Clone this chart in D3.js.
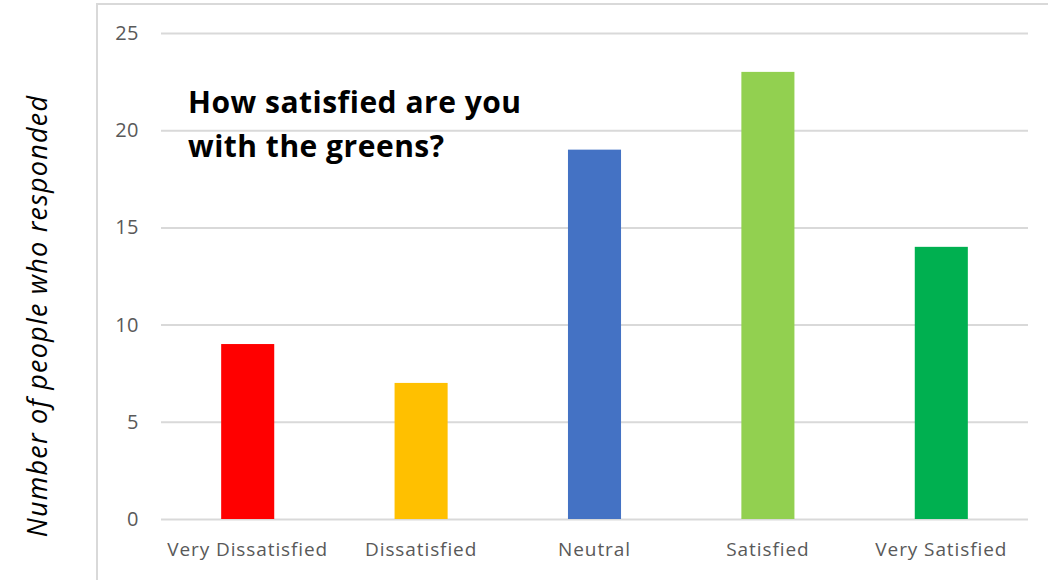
<!DOCTYPE html>
<html>
<head>
<meta charset="utf-8">
<script src="https://cdn.jsdelivr.net/npm/d3@7"></script>
<style>
  html, body { margin: 0; padding: 0; background: #fff; }
  svg { display: block; }
  text { font-family: "Open Sans", Lato, sans-serif; }
</style>
</head>
<body>
<svg id="chart" width="1048" height="580"></svg>
<script>
// Survey responses: satisfaction with the greens
const categories = ["Very Dissatisfied", "Dissatisfied", "Neutral", "Satisfied", "Very Satisfied"];
const responses = [9, 7, 19, 23, 14];
const barColors = ["#FF0000", "#FFC000", "#4472C4", "#92D050", "#00B050"];
const yTicks = [0, 5, 10, 15, 20, 25];
const titleLines = ["How satisfied are you", "with the greens?"];
const yAxisTitle = "Number of people who responded";

const svg = d3.select("#chart");
const W = 1048, H = 580;
const plot = { left: 161, right: 1028, top: 33, bottom: 519 };

// chart area frame (open on the right and bottom)
svg.append("path")
  .attr("d", `M97,${H} L97,4 L${W},4`)
  .attr("fill", "none")
  .attr("stroke", "#d9d9d9")
  .attr("stroke-width", 2);

const x = d3.scaleBand()
  .domain(categories)
  .range([plot.left, plot.right])
  .paddingInner(0.694)
  .paddingOuter(0.347);

const y = d3.scaleLinear()
  .domain([0, 25])
  .range([plot.bottom, plot.top]);

// horizontal gridlines + value labels
const yAxis = d3.axisLeft(y)
  .tickValues(yTicks)
  .tickSize(-(plot.right - plot.left))
  .tickPadding(22);
const gy = svg.append("g")
  .attr("transform", `translate(${plot.left},0)`)
  .call(yAxis);
gy.select(".domain").remove();
gy.selectAll(".tick line").attr("stroke", "#d9d9d9").attr("stroke-width", 2);
gy.selectAll(".tick text")
  .attr("fill", "#595959")
  .style("font-size", "20px")
  .style("letter-spacing", "0.5px");

// bars
svg.append("g").selectAll("rect")
  .data(responses)
  .join("rect")
  .attr("x", (d, i) => x(categories[i]))
  .attr("width", x.bandwidth())
  .attr("y", d => y(d))
  .attr("height", d => y(0) - y(d))
  .attr("fill", (d, i) => barColors[i]);

// category labels
const xAxis = d3.axisBottom(x).tickSize(0).tickPadding(24);
const gx = svg.append("g")
  .attr("transform", `translate(0,${plot.bottom})`)
  .call(xAxis);
gx.select(".domain").remove();
gx.selectAll(".tick text")
  .attr("fill", "#595959")
  .style("font-size", "19px")
  .style("letter-spacing", "0.9px");

// title inside the plot
const title = svg.append("text")
  .attr("x", 188)
  .attr("y", 113)
  .attr("fill", "#000")
  .style("font-size", "30px")
  .style("font-weight", "bold")
  .style("letter-spacing", "0.5px");
title.selectAll("tspan")
  .data(titleLines)
  .join("tspan")
  .attr("x", 188)
  .attr("dy", (d, i) => i === 0 ? 0 : 44)
  .text(d => d);

// vertical axis title
svg.append("text")
  .attr("transform", `translate(47,${(95 + 537) / 2}) rotate(-90)`)
  .attr("text-anchor", "middle")
  .attr("fill", "#000")
  .style("font-size", "27px")
  .style("font-style", "italic")
  .style("letter-spacing", "1.2px")
  .text(yAxisTitle);
</script>
</body>
</html>
